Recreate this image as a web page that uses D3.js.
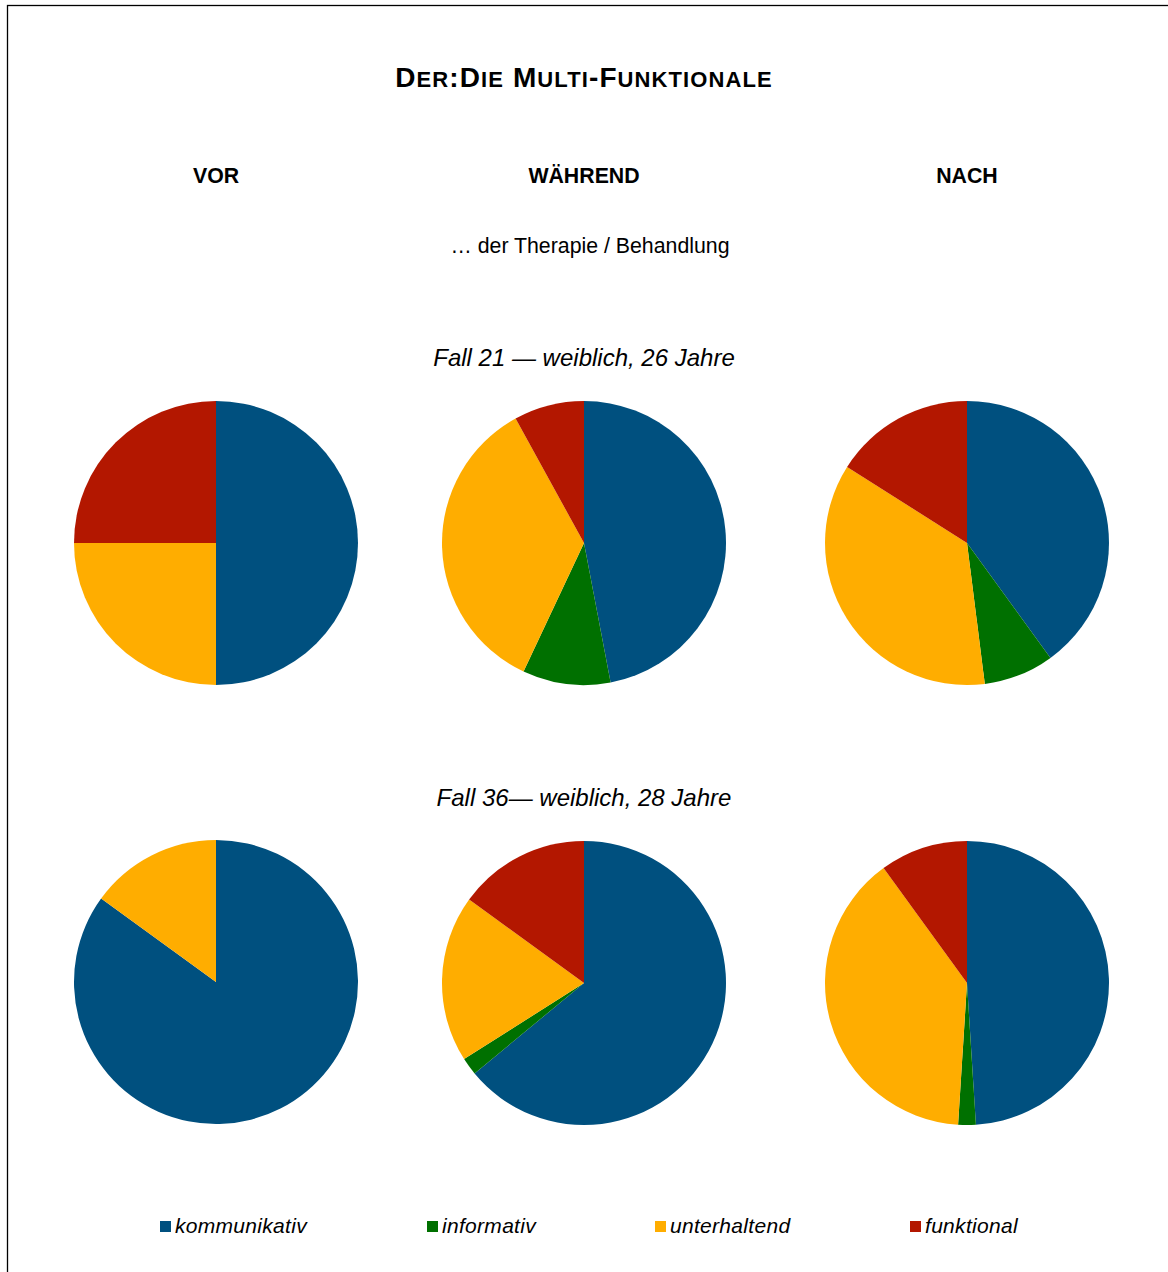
<!DOCTYPE html>
<html><head><meta charset="utf-8">
<script src="https://cdn.jsdelivr.net/npm/d3@7"></script>
<style>body{margin:0;background:#fff}svg{display:block}</style>
</head><body>
<svg id="c" width="1168" height="1272"></svg>
<script>
const categories = ["kommunikativ","informativ","unterhaltend","funktional"];
const colors = ["#00507f","#007000","#ffad00","#b31700"];
const phases = ["VOR","WÄHREND","NACH"];
const cases = ["Fall 21 — weiblich, 26 Jahre","Fall 36— weiblich, 28 Jahre"];
const fall21 = [[50,0,25,25],[47,10,35,8],[40,8,36,16]];
const fall36 = [[85,0,15,0],[64,2,19,15],[49,2,39,10]];
const rows = [fall21, fall36];
const titleParts = [["D",1],["ER",0],[":D",1],["IE",0],[" M",1],["ULTI",0],["-F",1],["UNKTIONALE",0]];

const svg = d3.select("#c");
const font = "'Liberation Sans', Arial, sans-serif";
svg.append("rect").attr("x",7.5).attr("y",5.5).attr("width",1200).attr("height",1300)
  .attr("fill","none").attr("stroke","#000").attr("stroke-width",1.3);

const title = svg.append("text").attr("x",584).attr("y",87).attr("text-anchor","middle")
  .attr("font-family",font).attr("font-weight","bold").attr("letter-spacing",1.1);
titleParts.forEach(([t,big])=>{
  title.append("tspan").attr("font-size",big?28:22).text(t);
});

const colPos = {"VOR":216,"WÄHREND":584,"NACH":967};
phases.forEach(p=>{
  svg.append("text").attr("x",colPos[p]).attr("y",183).attr("text-anchor","middle")
    .attr("font-family",font).attr("font-weight","bold").attr("font-size",21.3).text(p);
});
svg.append("text").attr("x",590).attr("y",253).attr("text-anchor","middle")
  .attr("font-family",font).attr("font-size",21.3).text("… der Therapie / Behandlung");

const rowY = [543, 982];
const caseY = [366, 806];
const color = d3.scaleOrdinal().domain(categories).range(colors);
const pie = d3.pie().sort(null).value(d=>d.v);
const arc = d3.arc().innerRadius(0).outerRadius(142);

rows.forEach((row,ri)=>{
  svg.append("text").attr("x",584).attr("y",caseY[ri]).attr("text-anchor","middle")
    .attr("font-family",font).attr("font-style","italic").attr("font-size",24).text(cases[ri]);
  row.forEach((vals,ci)=>{
    const data = vals.map((v,i)=>({k:categories[i],v}));
    const g = svg.append("g").attr("transform",`translate(${colPos[phases[ci]]},${rowY[ri]+(ri===1&&ci>0?1:0)})`);
    g.selectAll("path").data(pie(data).filter(d=>d.data.v>0)).join("path")
      .attr("d",arc).attr("fill",d=>color(d.data.k));
  });
});

const legX = [160,427,655,910];
categories.forEach((c,i)=>{
  svg.append("rect").attr("x",legX[i]).attr("y",1221).attr("width",11).attr("height",11).attr("fill",colors[i]);
  svg.append("text").attr("x",legX[i]+15).attr("y",1233).attr("font-family",font)
    .attr("font-style","italic").attr("font-size",21).attr("letter-spacing",0.3).text(c);
});
</script>
</body></html>
